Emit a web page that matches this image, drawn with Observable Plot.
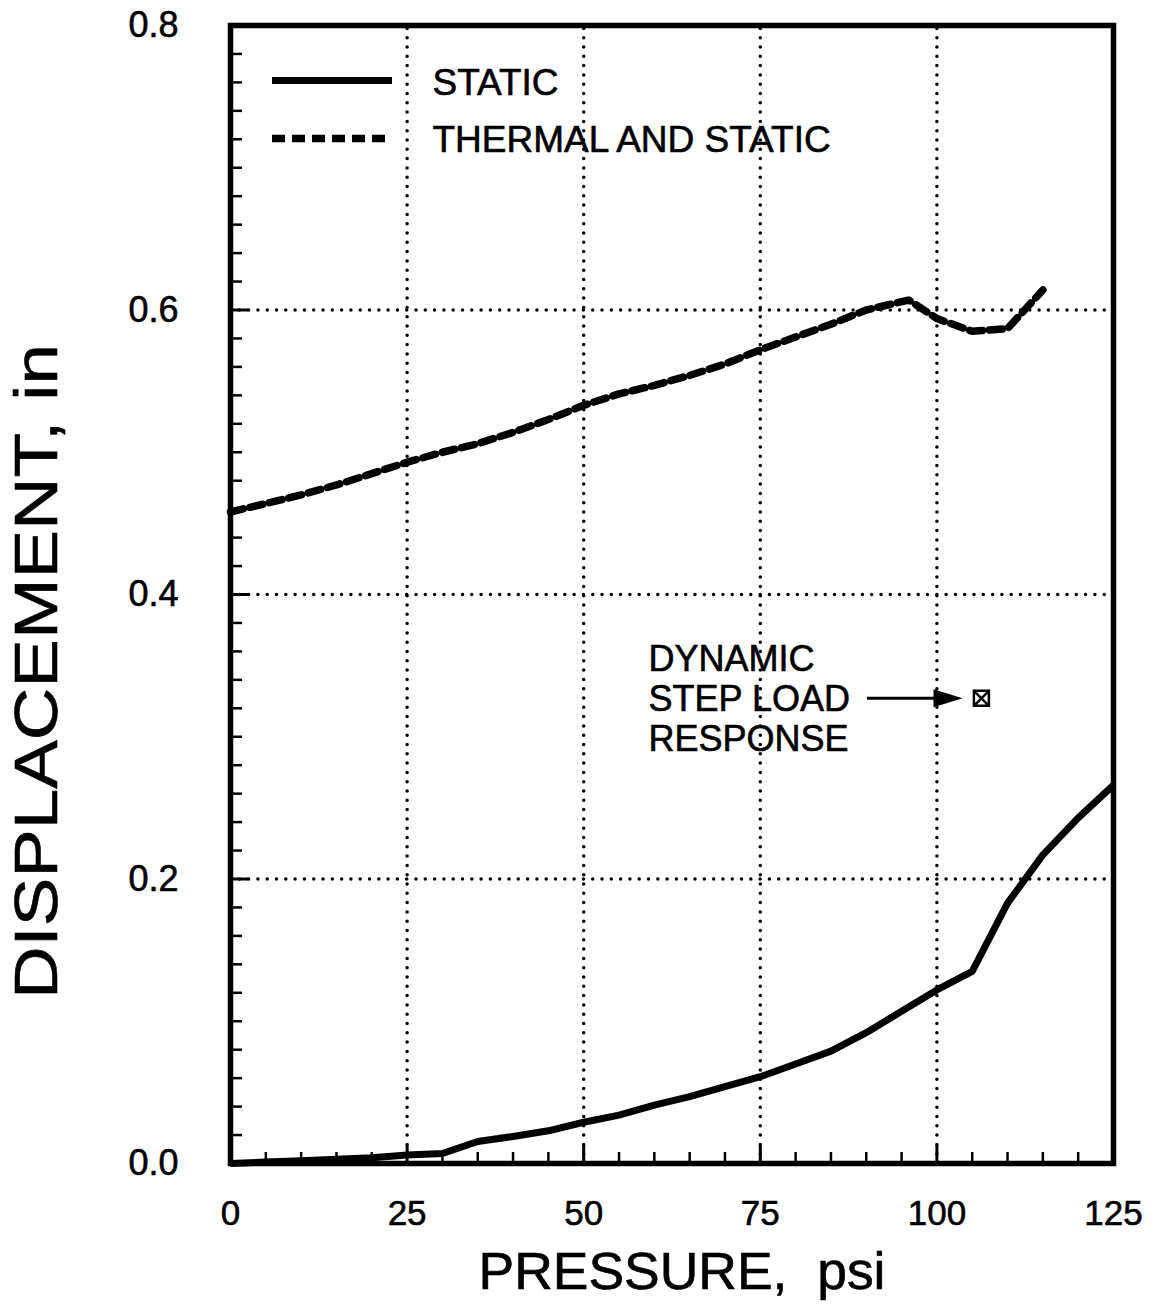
<!DOCTYPE html>
<html>
<head>
<meta charset="utf-8">
<script src="https://cdn.jsdelivr.net/npm/d3@7"></script>
<script src="https://cdn.jsdelivr.net/npm/@observablehq/plot@0.6"></script>
<style>
  html, body { margin: 0; padding: 0; background: #fff; }
  #chart svg text { stroke: #000; stroke-width: 0.6px; }
</style>
</head>
<body>
<div id="chart"></div>
<script>
// Static response: pressure (psi) vs displacement (in)
const staticPressure = [0, 5, 10, 15, 20, 25, 30, 35, 40, 45, 50, 55, 60, 65, 70, 75, 80, 85, 90, 95, 100, 105, 110, 115, 120, 125];
const staticDisp     = [0, 0.001, 0.002, 0.003, 0.004, 0.006, 0.007, 0.0155, 0.019, 0.023, 0.029, 0.034, 0.041, 0.047, 0.054, 0.061, 0.070, 0.079, 0.092, 0.107, 0.122, 0.135, 0.183, 0.217, 0.243, 0.266];

// Thermal and static response
const thermalPressure = [0, 5, 10, 15, 20, 25, 30, 35, 40, 45, 50, 55, 60, 65, 70, 75, 80, 85, 90, 96, 100, 105, 110, 115];
const thermalDisp     = [0.458, 0.464, 0.470, 0.477, 0.485, 0.493, 0.500, 0.506, 0.514, 0.523, 0.533, 0.541, 0.547, 0.554, 0.562, 0.572, 0.581, 0.590, 0.600, 0.607, 0.594, 0.585, 0.587, 0.614];

// Dynamic step load response (single point)
const dynamicPoint = [{pressure: 106.3, disp: 0.327}];

// Axes
const xTicks = [0, 25, 50, 75, 100, 125];
const yTicks = [0, 0.2, 0.4, 0.6, 0.8];
const xMinorTicks = d3.range(5, 125, 5);
const yMinorTicks = d3.range(1, 40).map(i => i * 0.02);

const xTitle = "PRESSURE,\u00a0 psi";
const yTitle = "DISPLACEMENT, in";
const legendLabels = ["STATIC", "THERMAL AND STATIC"];
const noteLines = ["DYNAMIC", "STEP LOAD", "RESPONSE"];

// ---- layout ----
const W = 1160, H = 1307;
const M = {left: 230, right: 47, top: 25, bottom: 144};
const xMax = 125, yMax = 0.8;
const psiPerPx = xMax / (W - M.left - M.right);
const inPerPx = yMax / (H - M.top - M.bottom);
const FONT = "'Liberation Sans', Arial, Helvetica, sans-serif";

const staticData = staticPressure.map((p, i) => ({pressure: p, disp: staticDisp[i]}));
const thermalData = thermalPressure.map((p, i) => ({pressure: p, disp: thermalDisp[i]}));

const majorInner = xTicks.filter(v => v > 0 && v < xMax);
const yMajorInner = yTicks.filter(v => v > 0 && v < yMax);
const xMinorOnly = xMinorTicks.filter(v => !majorInner.includes(v));
const yMinorOnly = yMinorTicks.filter(v => !yMajorInner.some(m => Math.abs(m - v) < 1e-9));

// custom glyphs drawn in pixel space
const arrowHead = {
  draw(ctx) { ctx.moveTo(0, 0); ctx.lineTo(-29, -9); ctx.lineTo(-29, 9); ctx.closePath(); }
};
const boxTimes = {
  draw(ctx) {
    const s = 7.5;
    ctx.moveTo(-s, -s); ctx.lineTo(s, -s); ctx.lineTo(s, s); ctx.lineTo(-s, s); ctx.closePath();
    ctx.moveTo(-s, -s); ctx.lineTo(s, s);
    ctx.moveTo(s, -s); ctx.lineTo(-s, s);
  }
};

const gridStyle = {stroke: "#000", strokeWidth: 3.5, strokeDasharray: "0,9.3", strokeLinecap: "round"};
const dashStyle = {stroke: "#000", strokeWidth: 7.5, strokeDasharray: "13,7", strokeLinejoin: "round"};

// legend placement (pixels from frame origin)
const legX1 = (272 - M.left) * psiPerPx;
const legX2Solid = (392 - M.left) * psiPerPx;
const legX2Dash = (385 - M.left) * psiPerPx;
const legTextX = (432 - M.left) * psiPerPx;
const legY = [ (H - M.bottom - 80) * inPerPx, (H - M.bottom - 138) * inPerPx ];
const legTextY = [ (H - M.bottom - 83) * inPerPx, (H - M.bottom - 140) * inPerPx ];

// annotation placement
const noteX = (648 - M.left) * psiPerPx;
const arrowStart = (867 - M.left) * psiPerPx;
const arrowTip = (962 - M.left) * psiPerPx;

const chart = Plot.plot({
  width: W,
  height: H,
  marginLeft: M.left,
  marginRight: M.right,
  marginTop: M.top,
  marginBottom: M.bottom,
  style: {fontFamily: FONT, color: "#000", background: "#fff"},
  x: {domain: [0, xMax], label: null},
  y: {domain: [0, yMax], label: null},
  marks: [
    // dotted grid
    Plot.ruleX(majorInner, {y1: 0, y2: yMax, ...gridStyle}),
    Plot.ruleY(yMajorInner, {x1: 0, x2: xMax, ...gridStyle}),
    // inward ticks
    Plot.ruleX(xMinorOnly, {y1: 0, y2: 11 * inPerPx, stroke: "#000", strokeWidth: 2.5}),
    Plot.ruleX(majorInner, {y1: 0, y2: 18 * inPerPx, stroke: "#000", strokeWidth: 3}),
    Plot.ruleY(yMinorOnly, {x1: 0, x2: 12 * psiPerPx, stroke: "#000", strokeWidth: 2.5}),
    Plot.ruleY(yMajorInner, {x1: 0, x2: 18 * psiPerPx, stroke: "#000", strokeWidth: 3}),
    // curves
    Plot.line(staticData, {x: "pressure", y: "disp", stroke: "#000", strokeWidth: 7, strokeLinejoin: "round", strokeLinecap: "butt"}),
    Plot.line(thermalData, {x: "pressure", y: "disp", ...dashStyle}),
    // frame
    Plot.frame({stroke: "#000", strokeWidth: 5.5}),
    // axes
    Plot.axisX({ticks: xTicks, tickSize: 0, tickPadding: 37, fontSize: 35, label: null, tickFormat: d => String(d)}),
    Plot.axisY({ticks: yTicks, tickSize: 0, tickPadding: 52, fontSize: 36, label: null, tickFormat: d => d.toFixed(1)}),
    Plot.text([xTitle], {text: d => d, frameAnchor: "bottom", dx: 10, dy: 109, fontSize: 51, lineAnchor: "middle", textAnchor: "middle", fill: "#000"}),
    Plot.text([yTitle], {text: d => d, frameAnchor: "left", rotate: -90, dx: -193, dy: 77, fontSize: 62, lineAnchor: "middle", textAnchor: "middle", fill: "#000"}),
    // legend
    Plot.ruleY([legY[0]], {x1: legX1, x2: legX2Solid, stroke: "#000", strokeWidth: 7}),
    Plot.ruleY([legY[1]], {x1: legX1, x2: legX2Dash, ...dashStyle}),
    Plot.text(legendLabels, {x: legTextX, y: (d, i) => legTextY[i], text: d => d, textAnchor: "start", lineAnchor: "middle", fontSize: 37, fill: "#000"}),
    // dynamic response annotation
    Plot.text([noteLines.join("\n")], {x: noteX, y: dynamicPoint[0].disp, text: d => d, textAnchor: "start", lineAnchor: "middle", lineHeight: 40 / 36, fontSize: 36, fill: "#000"}),
    Plot.ruleY([dynamicPoint[0].disp], {x1: arrowStart, x2: arrowTip - 20 * psiPerPx, stroke: "#000", strokeWidth: 3}),
    Plot.dot([arrowTip], {x: d => d, y: dynamicPoint[0].disp, symbol: arrowHead, fill: "#000", stroke: "none"}),
    Plot.dot(dynamicPoint, {x: "pressure", y: "disp", symbol: boxTimes, fill: "none", stroke: "#000", strokeWidth: 2.5})
  ]
});

document.getElementById("chart").appendChild(chart);

// stretch the axis titles to the lengths the original lettering runs
const titleLengths = new Map([[xTitle, 407], [yTitle, 655]]);
d3.select(chart).selectAll("text").each(function () {
  const len = titleLengths.get(this.textContent);
  if (len) d3.select(this).attr("textLength", len).attr("lengthAdjust", "spacingAndGlyphs");
});
</script>
</body>
</html>
